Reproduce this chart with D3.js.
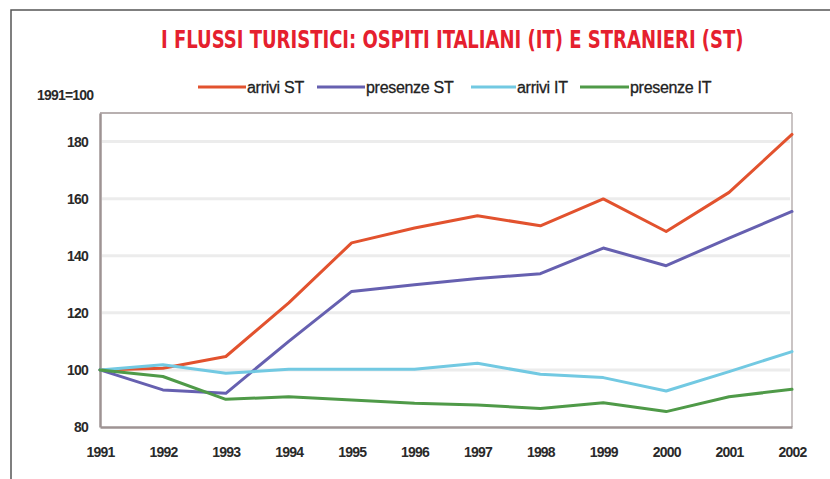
<!DOCTYPE html>
<html><head><meta charset="utf-8">
<script src="https://cdn.jsdelivr.net/npm/d3@7"></script>
<style>
html,body{margin:0;padding:0;background:#fff;}
svg{display:block;}
</style>
</head><body>
<svg id="chart" width="830" height="479"></svg>
<script>
const years = [1991,1992,1993,1994,1995,1996,1997,1998,1999,2000,2001,2002];
const arriviST   = [100, 100.6, 104.7, 123.5, 144.5, 149.7, 154.0, 150.5, 159.9, 148.5, 162.2, 182.5];
const presenzeST = [100, 93.0, 91.8, 110.0, 127.5, 129.8, 132.0, 133.7, 142.7, 136.5, 146.2, 155.5];
const arriviIT   = [100, 101.8, 98.8, 100.2, 100.2, 100.2, 102.3, 98.5, 97.3, 92.6, 99.4, 106.4];
const presenzeIT = [100, 97.7, 89.7, 90.6, 89.5, 88.3, 87.7, 86.5, 88.5, 85.4, 90.6, 93.2];
const seriesNames = ["arrivi ST","presenze ST","arrivi IT","presenze IT"];
const yTicks = [80,100,120,140,160,180];
const titleText = "I FLUSSI TURISTICI: OSPITI ITALIANI (IT) E STRANIERI (ST)";
const baseLabel = "1991=100";

const colors = ["#e2522e","#6660b0","#72c9e2","#4f9a48"];
const seriesData = [arriviST, presenzeST, arriviIT, presenzeIT];

const svg = d3.select("#chart");
const L = 100, R = 792, T = 113, B = 427;

// outer frame
svg.append("rect").attr("x",11).attr("y",10).attr("width",840).attr("height",500)
  .attr("fill","none").attr("stroke","#555").attr("stroke-width",1.5);

// title: fit natural width to 583px, then stretch vertically
const titleW = 583, titleX = 161, titleBase = 48;
const title = svg.append("text")
  .attr("font-family","'Liberation Sans Narrow','DejaVu Sans Condensed',sans-serif")
  .attr("font-weight","bold").attr("font-size",25).attr("fill","#e5202e")
  .text(titleText);
const w0 = title.node().getComputedTextLength();
const fs = 25 * titleW / w0;
const sy = 24 / fs;
title.attr("font-size",fs)
  .attr("transform",`translate(${titleX},${titleBase}) scale(1,${sy})`);

const x = d3.scalePoint().domain(years).range([L,R]);
const y = d3.scaleLinear().domain([80,190]).range([B,T]);

// gridlines
svg.append("g").selectAll("line").data(yTicks.filter(d=>d>80)).join("line")
  .attr("x1",L+2).attr("x2",R-2).attr("y1",d=>y(d)).attr("y2",d=>y(d))
  .attr("stroke","#ececec").attr("stroke-width",3);

// plot frame: top & right lighter
svg.append("line").attr("x1",L).attr("x2",R).attr("y1",T).attr("y2",T)
  .attr("stroke","#b8b0b0").attr("stroke-width",2);
svg.append("line").attr("x1",R).attr("x2",R).attr("y1",T).attr("y2",B)
  .attr("stroke","#b8b0b0").attr("stroke-width",1.5);

// axes
const tickFont = "'Liberation Sans',Arial,sans-serif";
const xAxis = svg.append("g").attr("transform",`translate(0,${B})`)
  .call(d3.axisBottom(x).tickSize(0).tickPadding(0));
xAxis.select(".domain").attr("stroke","#9e9393").attr("stroke-width",2.5);
xAxis.selectAll("text").attr("y",30).attr("dy",0)
  .attr("font-family",tickFont).attr("font-weight","bold").attr("font-size",14)
  .attr("letter-spacing","-0.8px").attr("fill","#2a2a2a");

const yAxis = svg.append("g").attr("transform",`translate(${L},0)`)
  .call(d3.axisLeft(y).tickValues(yTicks).tickSize(0).tickPadding(12).tickFormat(d3.format("d")));
yAxis.select(".domain").attr("stroke","#9e9393").attr("stroke-width",2.5);
yAxis.selectAll("text").attr("font-family",tickFont).attr("font-weight","bold")
  .attr("font-size",14).attr("letter-spacing","-0.8px").attr("fill","#2a2a2a");

svg.append("text").attr("x",37).attr("y",100)
  .attr("font-family",tickFont).attr("font-weight","bold").attr("font-size",14)
  .attr("letter-spacing","-0.8px").attr("fill","#2a2a2a").text(baseLabel);

// lines
const line = d3.line().x((d,i)=>x(years[i])).y(d=>y(d));
svg.append("g").selectAll("path").data(seriesData).join("path")
  .attr("d",line).attr("fill","none")
  .attr("stroke",(d,i)=>colors[i]).attr("stroke-width",3)
  .attr("stroke-linejoin","round").attr("stroke-linecap","round");

// legend
const legendX = [198,317,471,580];
const legendW = [48,48,45,49];
const lg = svg.append("g");
seriesNames.forEach((n,i)=>{
  lg.append("line").attr("x1",legendX[i]).attr("x2",legendX[i]+legendW[i])
    .attr("y1",87).attr("y2",87).attr("stroke",colors[i]).attr("stroke-width",3);
  lg.append("text").attr("x",legendX[i]+legendW[i]+1).attr("y",92.5)
    .attr("font-family",tickFont).attr("font-size",16).attr("letter-spacing","-0.3px")
    .attr("fill","#222").attr("stroke","#222").attr("stroke-width",0.3).text(n);
});
</script>
</body></html>
